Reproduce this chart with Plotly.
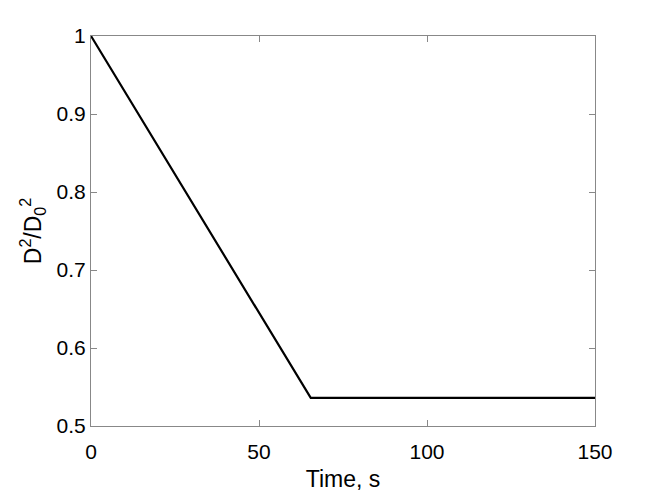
import plotly.graph_objects as go

time_s = [0, 65.4, 150]
d2_ratio = [1.0, 0.536, 0.536]

x_ticks = [0, 50, 100, 150]
y_ticks = [0.5, 0.6, 0.7, 0.8, 0.9, 1.0]
y_tick_labels = ["0.5", "0.6", "0.7", "0.8", "0.9", "1"]

fig = go.Figure()
fig.add_trace(go.Scatter(x=time_s, y=d2_ratio, mode="lines",
                         line=dict(color="black", width=2.2), showlegend=False))

axis_common = dict(showline=True, linecolor="#888888", linewidth=1, mirror="allticks",
                   ticks="inside", ticklen=6, tickcolor="#888888", showgrid=False,
                   zeroline=False, tickfont=dict(family="Liberation Sans, Arial", size=21, color="black"))

fig.update_layout(
    width=658, height=494,
    margin=dict(l=83, r=71, t=28, b=76),
    plot_bgcolor="white", paper_bgcolor="white",
    font=dict(family="Liberation Sans, Arial", size=21, color="black"),
    xaxis=dict(range=[0, 150], tickvals=x_ticks, ticktext=[str(v) for v in x_ticks],
               ticklabelstandoff=7,
               title=dict(text="Time, s", font=dict(size=23), standoff=8), **axis_common),
    yaxis=dict(range=[0.5, 1.0], tickvals=y_ticks, ticktext=y_tick_labels,
               title=dict(text="D<sup>2</sup>/D<sub>0</sub><sup>2</sup>", font=dict(size=23), standoff=8),
               **axis_common),
)

fig.write_html("out.html")
